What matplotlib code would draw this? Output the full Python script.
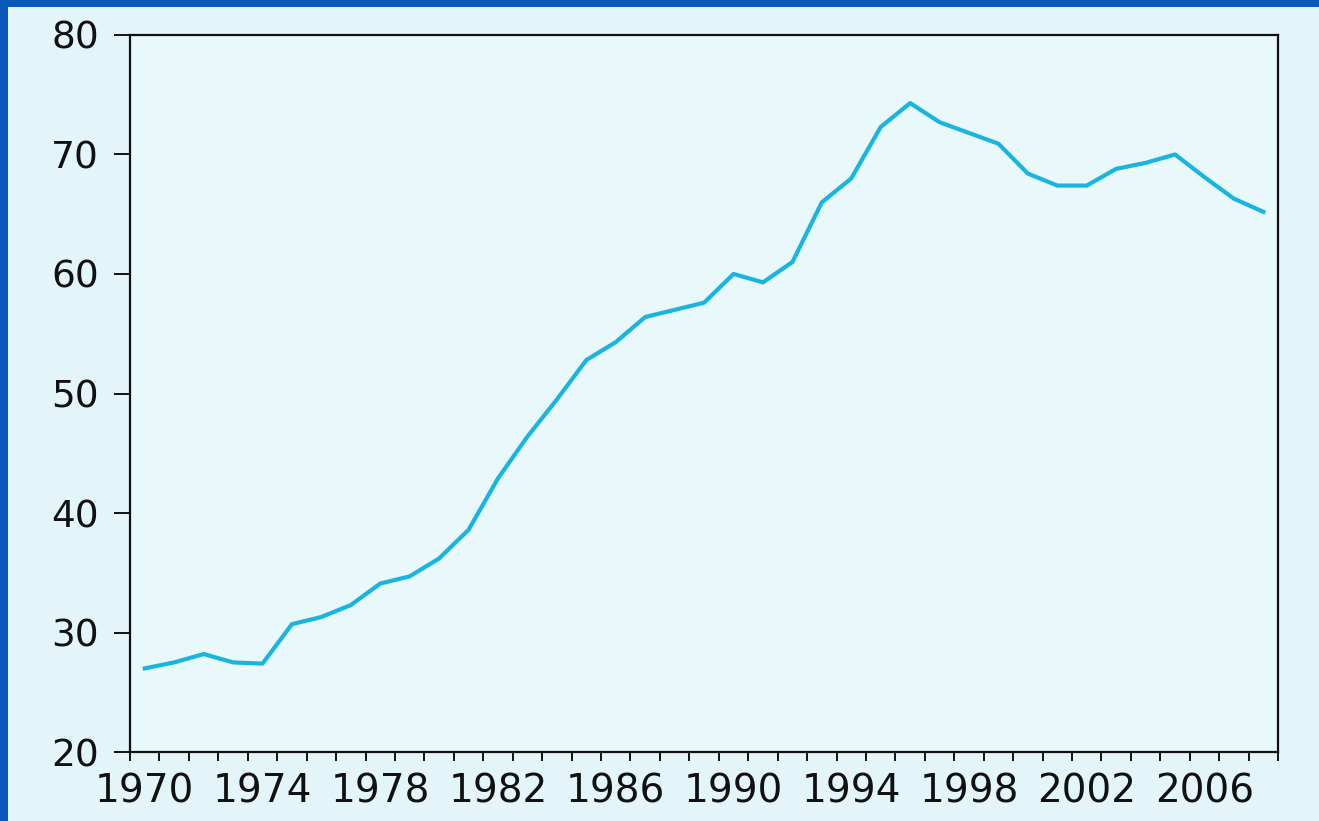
import matplotlib
matplotlib.use("Agg")
import matplotlib.pyplot as plt
from matplotlib.patches import Rectangle
import numpy as np

# Datos (serie anual 1970-2008)
years = list(range(1970, 2009))
values = [
    27.0, 27.5, 28.2, 27.5, 27.4, 30.7, 31.3, 32.3, 34.1, 34.7,
    36.2, 38.6, 42.9, 46.4, 49.5, 52.8, 54.3, 56.4, 57.0, 57.6,
    60.0, 59.3, 61.0, 66.0, 68.0, 72.3, 74.3, 72.7, 71.8, 70.9,
    68.4, 67.4, 67.4, 68.8, 69.3, 70.0, 68.1, 66.3, 65.2,
]
x_labels = [str(y) for y in range(1970, 2009, 4)]
y_ticks = [20, 30, 40, 50, 60, 70, 80]

BG = "#e4f5f9"
AX_BG = "#e9f8fb"
LINE = "#19b4df"
FRAME = "#0a58b8"
INK = "#111111"

fig = plt.figure(figsize=(13.19, 8.21), dpi=100, facecolor=BG)
ax = fig.add_axes([0.0986, 0.0840, 0.8704, 0.8734], facecolor=AX_BG)

ax.plot(years, values, color=LINE, linewidth=3.0, solid_joinstyle="round")

ax.set_xlim(1969.5, 2008.5)
ax.set_ylim(20, 80)

# Etiquetas del eje x centradas en los años, marcas en los límites entre años
ax.set_xticks(range(1970, 2009, 4))
ax.set_xticklabels(x_labels)
ax.set_xticks(np.arange(1969.5, 2009.0, 1.0), minor=True)
ax.tick_params(axis="x", which="major", length=0, pad=15, labelsize=28,
               labelcolor=INK)
ax.tick_params(axis="x", which="minor", length=6.5, width=1.4,
               direction="out", color=INK)

ax.set_yticks(y_ticks)
ax.tick_params(axis="y", which="major", length=11.5, width=1.4, pad=11,
               labelsize=27, labelcolor=INK, color=INK)

for side in ["left", "right", "top", "bottom"]:
    ax.spines[side].set_linewidth(1.6)
    ax.spines[side].set_color(INK)

# Marco azul de la diapositiva (arriba e izquierda)
fig.patches.append(Rectangle((0, 0), 8 / 1319, 1, transform=fig.transFigure,
                             facecolor=FRAME, edgecolor="none", zorder=-1))
fig.patches.append(Rectangle((0, 1 - 7 / 821), 1, 7 / 821,
                             transform=fig.transFigure,
                             facecolor=FRAME, edgecolor="none", zorder=-1))

fig.savefig("out.png", dpi=100, facecolor=BG)
